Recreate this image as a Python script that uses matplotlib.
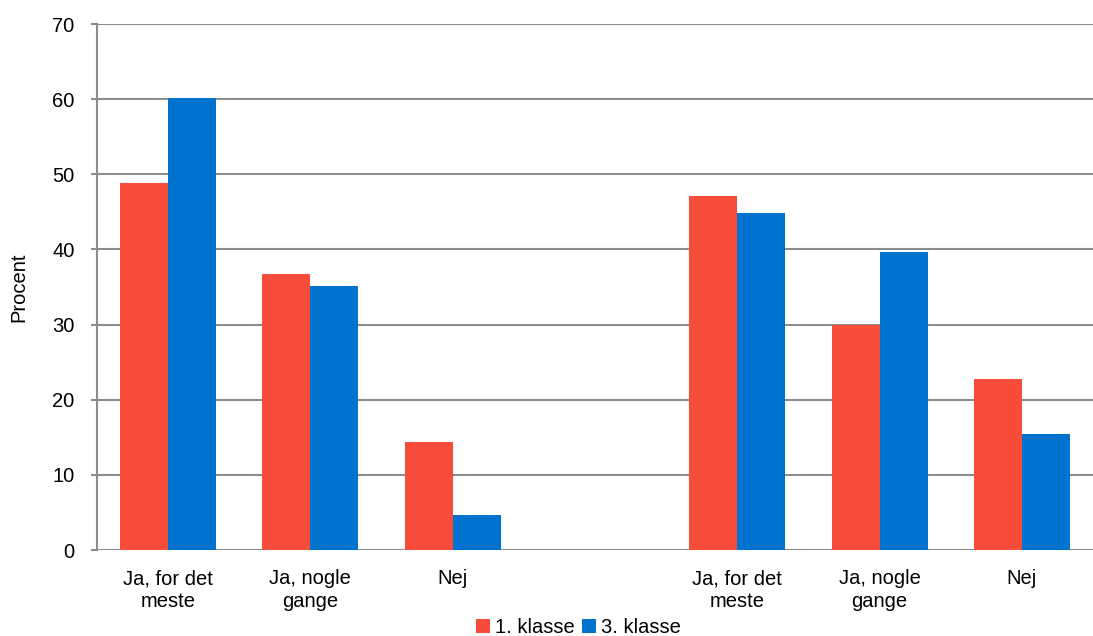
import matplotlib.pyplot as plt
import numpy as np

plt.rcParams['font.family'] = ['Liberation Sans', 'DejaVu Sans']

# data
categories = ['Ja, for det\nmeste', 'Ja, nogle\ngange', 'Nej', '',
              'Ja, for det\nmeste', 'Ja, nogle\ngange', 'Nej']
klasse1 = [48.8, 36.8, 14.4, np.nan, 47.1, 30.0, 22.8]
klasse3 = [60.1, 35.1, 4.6, np.nan, 44.8, 39.6, 15.5]
series_names = ['1. klasse', '3. klasse']
colors = ['#F84C3B', '#0073CE']

fig = plt.figure(figsize=(10.93, 6.36), dpi=100)
ax = fig.add_axes([0.0887, 0.1352, 0.9113, 0.827])

x = np.arange(len(categories))
w = 0.337
ax.bar(x - w / 2, klasse1, width=w, color=colors[0], label=series_names[0], zorder=3)
ax.bar(x + w / 2, klasse3, width=w, color=colors[1], label=series_names[1], zorder=3)

ax.set_xlim(-0.5, len(categories) - 0.5)
ax.set_ylim(0, 70)
ax.set_yticks(range(0, 71, 10))
ax.yaxis.grid(True, color='#8c8c8c', linewidth=1.5, zorder=0)
ax.set_axisbelow(True)

ax.set_xticks(x)
ax.set_xticklabels(categories, fontsize=14.5, linespacing=1.25)
ax.tick_params(axis='x', length=0, pad=14)
ax.tick_params(axis='y', labelsize=14.5, length=4, color='#8c8c8c', width=1.5, pad=12)

for s in ['top', 'right', 'bottom']:
    ax.spines[s].set_visible(False)
ax.spines['left'].set_color('#8c8c8c')
ax.spines['left'].set_linewidth(1.5)

ax.set_ylabel('Procent', fontsize=14.5, labelpad=17)

ax.legend(loc='center', bbox_to_anchor=(0.483, -0.148), ncol=2, frameon=False,
          fontsize=14.5, handlelength=0.7, handleheight=0.7, handletextpad=0.25,
          columnspacing=0.35)

fig.savefig('out.png', dpi=100)
